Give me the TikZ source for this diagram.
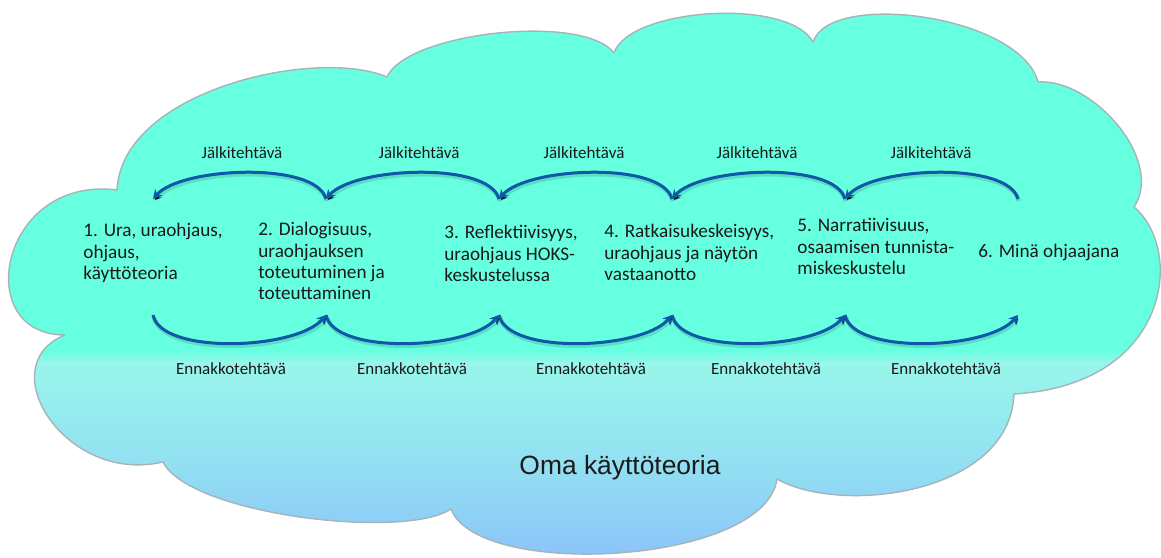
\documentclass[tikz,border=0pt]{standalone}
\usepackage{fontspec}
\setmainfont{Carlito}
\newfontfamily\arialfont{Liberation Sans}
\usetikzlibrary{arrows.meta}
\definecolor{aqua}{RGB}{102,255,224}
\definecolor{lightaqua}{RGB}{152,246,234}
\definecolor{midblue}{RGB}{146,222,242}
\definecolor{lowblue}{RGB}{140,196,250}
\definecolor{arcblue}{RGB}{14,88,168}
\definecolor{txt}{RGB}{26,26,26}
\definecolor{edge}{RGB}{165,180,185}
\tikzset{
  arcline/.style={draw=arcblue, line width=1.5pt, -{Stealth[length=4.5pt,width=5pt]},
    preaction={draw=black, draw opacity=0.12, line width=2.3pt,
      transform canvas={shift={(0.5pt,-1pt)}}}},
  stagetext/.style={anchor=north west, inner sep=0pt, align=left, text=txt,
    font=\fontsize{9.6}{10.7}\selectfont},
  tasklabel/.style={anchor=base, inner sep=0pt, text=txt, font=\fontsize{8.5}{10}\selectfont}
}
\newcommand{\cloudoutline}{(117,190)
 .. controls (122,90) and (317,47) .. (387,77)
 .. controls (407,32) and (584,13) .. (614,53)
 .. controls (629,8) and (788,-3) .. (813,42)
 .. controls (830,-10) and (1020,15) .. (1038,82)
 .. controls (1092,78) and (1165,160) .. (1134,207)
 .. controls (1185,250) and (1170,385) .. (1014,394)
 .. controls (1010,495) and (840,515) .. (777,479)
 .. controls (765,565) and (478,580) .. (451,509)
 .. controls (405,540) and (190,515) .. (163,462)
 .. controls (65,485) and (-10,365) .. (65,335)
 .. controls (-30,335) and (0,175) .. (117,190)
 -- cycle}
\begin{document}
\begin{tikzpicture}[x=0.5pt,y=-0.5pt]
\useasboundingbox (0,0) rectangle (1161,557);
% cloud
\begin{scope}
  \clip \cloudoutline;
  \fill[aqua] (0,0) rectangle (1161,351);
  \shade[top color=aqua, bottom color=lightaqua] (0,350) rectangle (1161,363);
  \shade[top color=lightaqua, bottom color=midblue] (0,362) rectangle (1161,470);
  \shade[top color=midblue, bottom color=lowblue] (0,469) rectangle (1161,557);
\end{scope}
\draw[edge, line width=0.7pt, line join=round] \cloudoutline;

% arc end points
\foreach \i/\x in {0/153,1/326,2/499,3/672,4/845,5/1018}{
  \coordinate (u\i) at (\x,199);
  \coordinate (l\i) at (\x,315);
}
% upper arcs (Jälkitehtävä), pointing left
\foreach \i [evaluate=\i as \j using int(\i-1)] in {1,...,5}{
  \draw[arcline] (u\i) .. controls +(-10,-38) and +(28,-32) .. (u\j);
}
% lower arcs (Ennakkotehtävä), pointing right
\foreach \i [evaluate=\i as \j using int(\i-1)] in {1,...,5}{
  \draw[arcline] (l\j) .. controls +(8,40) and +(-30,35) .. (l\i);
}

% task labels
\node[tasklabel] (j1) at (242,158) {Jälkitehtävä};
\node[tasklabel] (j2) at (419,158) {Jälkitehtävä};
\node[tasklabel] (j3) at (584,158) {Jälkitehtävä};
\node[tasklabel] (j4) at (757,158) {Jälkitehtävä};
\node[tasklabel] (j5) at (931,158) {Jälkitehtävä};
\node[tasklabel] (e1) at (231,374) {Ennakkotehtävä};
\node[tasklabel] (e2) at (412,374) {Ennakkotehtävä};
\node[tasklabel] (e3) at (591,374) {Ennakkotehtävä};
\node[tasklabel] (e4) at (766,374) {Ennakkotehtävä};
\node[tasklabel] (e5) at (946,374) {Ennakkotehtävä};

% stage texts
\node[stagetext] (t1) at (83,223) {1. Ura, uraohjaus,\\ohjaus,\\käyttöteoria};
\node[stagetext] (t2) at (258,222) {2. Dialogisuus,\\uraohjauksen\\toteutuminen ja\\toteuttaminen};
\node[stagetext] (t3) at (444,225) {3. Reflektiivisyys,\\uraohjaus HOKS-\\keskustelussa};
\node[stagetext] (t4) at (604,224) {4. Ratkaisukeskeisyys,\\uraohjaus ja näytön\\vastaanotto};
\node[stagetext] (t5) at (797,218) {5. Narratiivisuus,\\osaamisen tunnista-\\miskeskustelu};
\node[anchor=base west, inner sep=0pt, text=txt, font=\fontsize{9.6}{10.7}\selectfont] (t6) at (978,257) {6. Minä ohjaajana};

\node[anchor=base, inner sep=0pt, text=txt, font=\arialfont\fontsize{13.2}{15}\selectfont] (oma) at (620,474) {Oma käyttöteoria};
\end{tikzpicture}
\end{document}
